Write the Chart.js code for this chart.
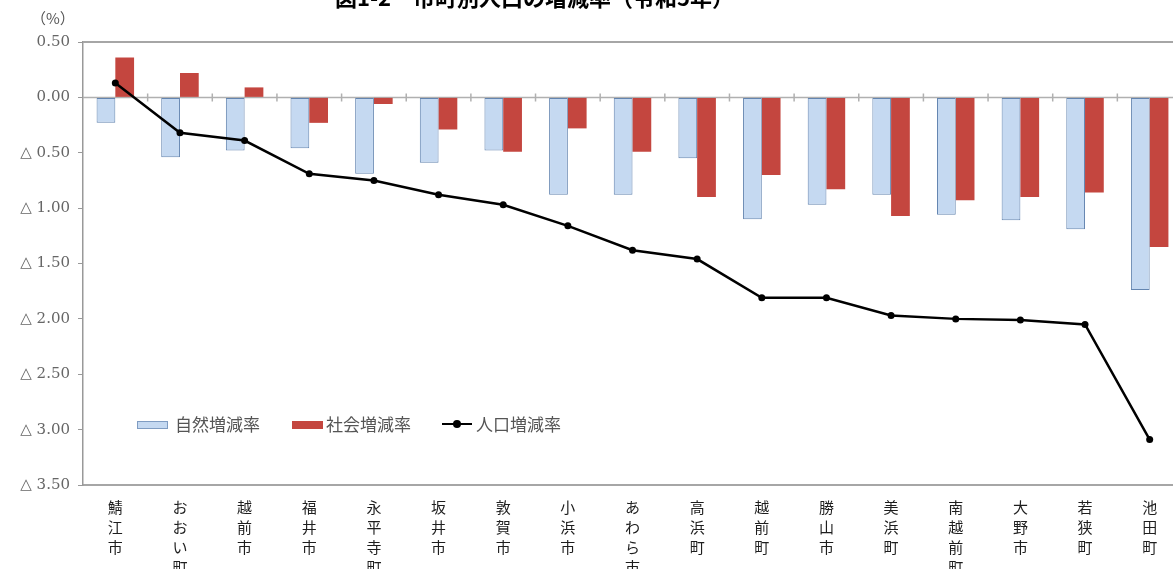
<!DOCTYPE html>
<html lang="ja">
<head>
<meta charset="utf-8">
<title>市町別人口の増減率</title>
<script src="https://cdn.jsdelivr.net/npm/chart.js@4/dist/chart.umd.min.js"></script>
<style>
    html, body {
        margin: 0;
        padding: 0;
        background: #fff;
        width: 1173px;
        height: 569px;
        overflow: hidden;
    }
    #wrap {
        position: relative;
        width: 1193px;
        height: 600px;
    }
    #chart {
        position: absolute;
        left: 0;
        top: 0;
    }
    .title {
        position: absolute;
        left: 335px;
        top: -15px;
        font: bold 22px/22px "Noto Sans CJK JP", sans-serif;
        color: #000;
        white-space: nowrap;
    }
    .unit {
        position: absolute;
        left: 31px;
        top: 9px;
        font: 15px/18px "Noto Sans CJK JP", sans-serif;
        color: #555;
    }
    .legend {
        position: absolute;
        top: 413px;
        font: 17px/22px "Noto Sans CJK JP", sans-serif;
        color: #555;
        white-space: nowrap;
    }
    .swatch {
        position: absolute;
        top: 8px;
        width: 29px;
        height: 6px;
    }
</style>
</head>
<body>
<div id="wrap">
    <canvas id="chart" width="1193" height="600"></canvas>
    <div class="title">図1-2　市町別人口の増減率（令和5年）</div>
    <div class="unit">（%）</div>
    <div class="legend" style="left:137px;">
        <span class="swatch" style="left:0; background:#c5d9f1; border:1px solid #7f9cc2;"></span>
        <span style="position:absolute; left:38px;">自然増減率</span>
    </div>
    <div class="legend" style="left:292px;">
        <span class="swatch" style="left:0; background:#c4463f; border:1px solid #c4463f;"></span>
        <span style="position:absolute; left:34px;">社会増減率</span>
    </div>
    <div class="legend" style="left:442px;">
        <span style="position:absolute; left:0; top:10px; width:30px; height:2px; background:#000;"></span>
        <span style="position:absolute; left:11px; top:7px; width:8px; height:8px; border-radius:50%; background:#000;"></span>
        <span style="position:absolute; left:34px;">人口増減率</span>
    </div>
</div>
<script>
// categories (each label stacked vertically, one character per line)
const towns = ['鯖江市', 'おおい町', '越前市', '福井市', '永平寺町', '坂井市', '敦賀市', '小浜市',
    'あわら市', '高浜町', '越前町', '勝山市', '美浜町', '南越前町', '大野市', '若狭町', '池田町'];

// series values (%)
const naturalRate = [-0.23, -0.54, -0.48, -0.46, -0.69, -0.59, -0.48, -0.88,
    -0.88, -0.55, -1.10, -0.97, -0.88, -1.06, -1.11, -1.19, -1.74];
const socialRate = [0.36, 0.22, 0.09, -0.23, -0.06, -0.29, -0.49, -0.28,
    -0.49, -0.90, -0.70, -0.83, -1.07, -0.93, -0.90, -0.86, -1.35];
const populationRate = [0.13, -0.32, -0.39, -0.69, -0.75, -0.88, -0.97, -1.16,
    -1.38, -1.46, -1.81, -1.81, -1.97, -2.00, -2.01, -2.05, -3.09];

// y axis range
const yMin = -3.5;
const yMax = 0.5;
const yStep = 0.5;

// draws the top frame line and the zero line with its category ticks
const framePlugin = {
    id: 'frame',
    beforeDatasetsDraw(chart) {
        const { ctx, chartArea, scales } = chart;
        const x = scales.x;
        const y = scales.y;
        ctx.save();
        ctx.strokeStyle = '#a6a6a6';
        ctx.lineWidth = 2;
        ctx.beginPath();
        ctx.moveTo(chartArea.left, chartArea.top);
        ctx.lineTo(chartArea.right, chartArea.top);
        ctx.stroke();

        const y0 = y.getPixelForValue(0);
        ctx.strokeStyle = '#b0b0b0';
        ctx.lineWidth = 1.5;
        ctx.beginPath();
        ctx.moveTo(chartArea.left, y0);
        ctx.lineTo(chartArea.right, y0);
        for (let i = 1; i < towns.length; i++) {
            const xb = (x.getPixelForValue(i - 1) + x.getPixelForValue(i)) / 2;
            ctx.moveTo(xb, y0 - 4);
            ctx.lineTo(xb, y0 + 4);
        }
        ctx.stroke();
        ctx.restore();
    }
};

document.addEventListener('DOMContentLoaded', () => {
    const ctx = document.getElementById('chart').getContext('2d');

    new Chart(ctx, {
        type: 'bar',
        data: {
            labels: towns.map(t => t.split('')),
            datasets: [
                {
                    type: 'line',
                    label: '人口増減率',
                    data: populationRate,
                    borderColor: '#000',
                    borderWidth: 2.5,
                    pointRadius: 3.5,
                    pointBackgroundColor: '#000',
                    pointBorderWidth: 0,
                    tension: 0,
                    order: 0
                },
                {
                    label: '自然増減率',
                    data: naturalRate,
                    backgroundColor: '#c5d9f1',
                    borderColor: '#6485b0',
                    borderWidth: 1,
                    borderSkipped: false,
                    categoryPercentage: 0.58,
                    barPercentage: 1.0,
                    order: 1
                },
                {
                    label: '社会増減率',
                    data: socialRate,
                    backgroundColor: '#c4463f',
                    borderWidth: 0,
                    categoryPercentage: 0.58,
                    barPercentage: 1.0,
                    order: 1
                }
            ]
        },
        options: {
            responsive: false,
            animation: false,
            layout: {
                padding: { top: 42, right: 11, left: 0, bottom: 0 }
            },
            plugins: {
                legend: { display: false },
                tooltip: { enabled: false }
            },
            scales: {
                x: {
                    afterFit(scale) { scale.height = 115; },
                    grid: { display: false },
                    border: { display: true, color: '#a6a6a6', width: 2 },
                    ticks: {
                        autoSkip: false,
                        maxRotation: 0,
                        minRotation: 0,
                        padding: 4,
                        color: '#1e1e1e',
                        font: {
                            family: '"Noto Sans CJK JP", sans-serif',
                            size: 15,
                            lineHeight: '20px'
                        }
                    }
                },
                y: {
                    min: yMin,
                    max: yMax,
                    afterFit(scale) { scale.width = 83; },
                    grid: {
                        display: true,
                        drawOnChartArea: false,
                        drawTicks: true,
                        tickLength: 5,
                        color: '#999'
                    },
                    border: { display: true, color: '#999', width: 1.5 },
                    ticks: {
                        stepSize: yStep,
                        padding: 8,
                        color: '#666',
                        font: {
                            family: '"DejaVu Serif", serif',
                            size: 15
                        },
                        callback: function(value) {
                            if (value >= 0) {
                                return value.toFixed(2);
                            }
                            return '△ ' + (-value).toFixed(2);
                        }
                    }
                }
            }
        },
        plugins: [framePlugin]
    });
});
</script>
</body>
</html>
